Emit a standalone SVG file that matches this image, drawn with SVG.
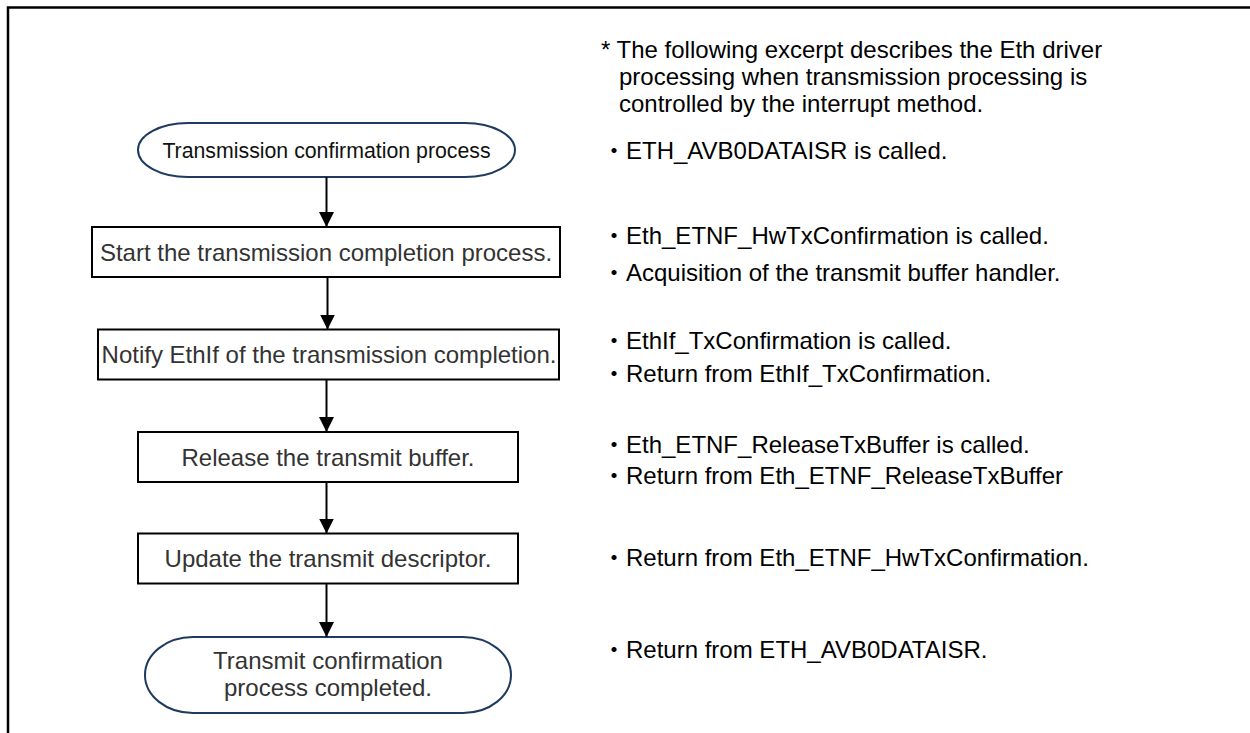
<svg xmlns="http://www.w3.org/2000/svg" width="1250" height="733" viewBox="0 0 1250 733">
  <defs>
    <marker id="arrow" markerWidth="16" markerHeight="16" refX="15" refY="7.5" orient="auto" markerUnits="userSpaceOnUse">
      <path d="M0,0 L15,7.5 L0,15 Z" fill="#000"/>
    </marker>
  </defs>
  <style>
    .frame { fill: none; stroke: #000; stroke-width: 2.5; }
    .term { fill: #fff; stroke: #1f3a5f; stroke-width: 2; }
    .box { fill: #fff; stroke: #000; stroke-width: 2; }
    .lbl { font-family: "Liberation Sans", Arial, sans-serif; fill: #333; text-anchor: middle; }
    .note { font-family: "Liberation Sans", "Noto Sans CJK JP", sans-serif; font-size: 24px; fill: #000; }
    .conn { stroke: #000; stroke-width: 2; fill: none; marker-end: url(#arrow); }
  </style>
  <rect width="1250" height="733" fill="#fff"/>

  <!-- outer frame: top and left edges -->
  <path class="frame" d="M8,733 L8,7.5 L1250,7.5"/>

  <!-- flow nodes -->
  <g id="start">
    <rect class="term" x="138" y="123" width="377" height="54" rx="50" ry="27"/>
    <text class="lbl" x="326.5" y="157.5" font-size="21.3" style="fill:#111">Transmission confirmation process</text>
  </g>
  <g id="step-start-completion">
    <rect class="box" x="92" y="227" width="468" height="50"/>
    <text class="lbl" x="326" y="260.5" font-size="24">Start the transmission completion process.</text>
  </g>
  <g id="step-notify-ethif">
    <rect class="box" x="98" y="329.5" width="461" height="50"/>
    <text class="lbl" x="329" y="363" font-size="24">Notify EthIf of the transmission completion.</text>
  </g>
  <g id="step-release-buffer">
    <rect class="box" x="138" y="432" width="380" height="50"/>
    <text class="lbl" x="328" y="465.5" font-size="24">Release the transmit buffer.</text>
  </g>
  <g id="step-update-descriptor">
    <rect class="box" x="138" y="533.5" width="380" height="50"/>
    <text class="lbl" x="328" y="567" font-size="24">Update the transmit descriptor.</text>
  </g>
  <g id="end">
    <rect class="term" x="145" y="637" width="366" height="76" rx="48" ry="38"/>
    <text class="lbl" x="328" y="669" font-size="24">Transmit confirmation</text>
    <text class="lbl" x="328" y="696" font-size="24">process completed.</text>
  </g>

  <!-- connectors -->
  <g id="connectors">
    <line class="conn" x1="326.5" y1="177" x2="326.5" y2="227"/>
    <line class="conn" x1="327.5" y1="277" x2="327.5" y2="329.5"/>
    <line class="conn" x1="326.5" y1="379.5" x2="326.5" y2="432"/>
    <line class="conn" x1="326.5" y1="482" x2="326.5" y2="533.5"/>
    <line class="conn" x1="326.5" y1="583.5" x2="326.5" y2="637"/>
  </g>

  <!-- side notes -->
  <g id="notes">
    <text class="note" x="601" y="58">* The following excerpt describes the Eth driver</text>
    <text class="note" x="619" y="85">processing when transmission processing is</text>
    <text class="note" x="619" y="111.5">controlled by the interrupt method.</text>
    <text class="note" x="602" y="159">・ETH_AVB0DATAISR is called.</text>
    <text class="note" x="602" y="244">・Eth_ETNF_HwTxConfirmation is called.</text>
    <text class="note" x="602" y="281">・Acquisition of the transmit buffer handler.</text>
    <text class="note" x="602" y="349">・EthIf_TxConfirmation is called.</text>
    <text class="note" x="602" y="382">・Return from EthIf_TxConfirmation.</text>
    <text class="note" x="602" y="453">・Eth_ETNF_ReleaseTxBuffer is called.</text>
    <text class="note" x="602" y="484">・Return from Eth_ETNF_ReleaseTxBuffer</text>
    <text class="note" x="602" y="566">・Return from Eth_ETNF_HwTxConfirmation.</text>
    <text class="note" x="602" y="658">・Return from ETH_AVB0DATAISR.</text>
  </g>
</svg>
